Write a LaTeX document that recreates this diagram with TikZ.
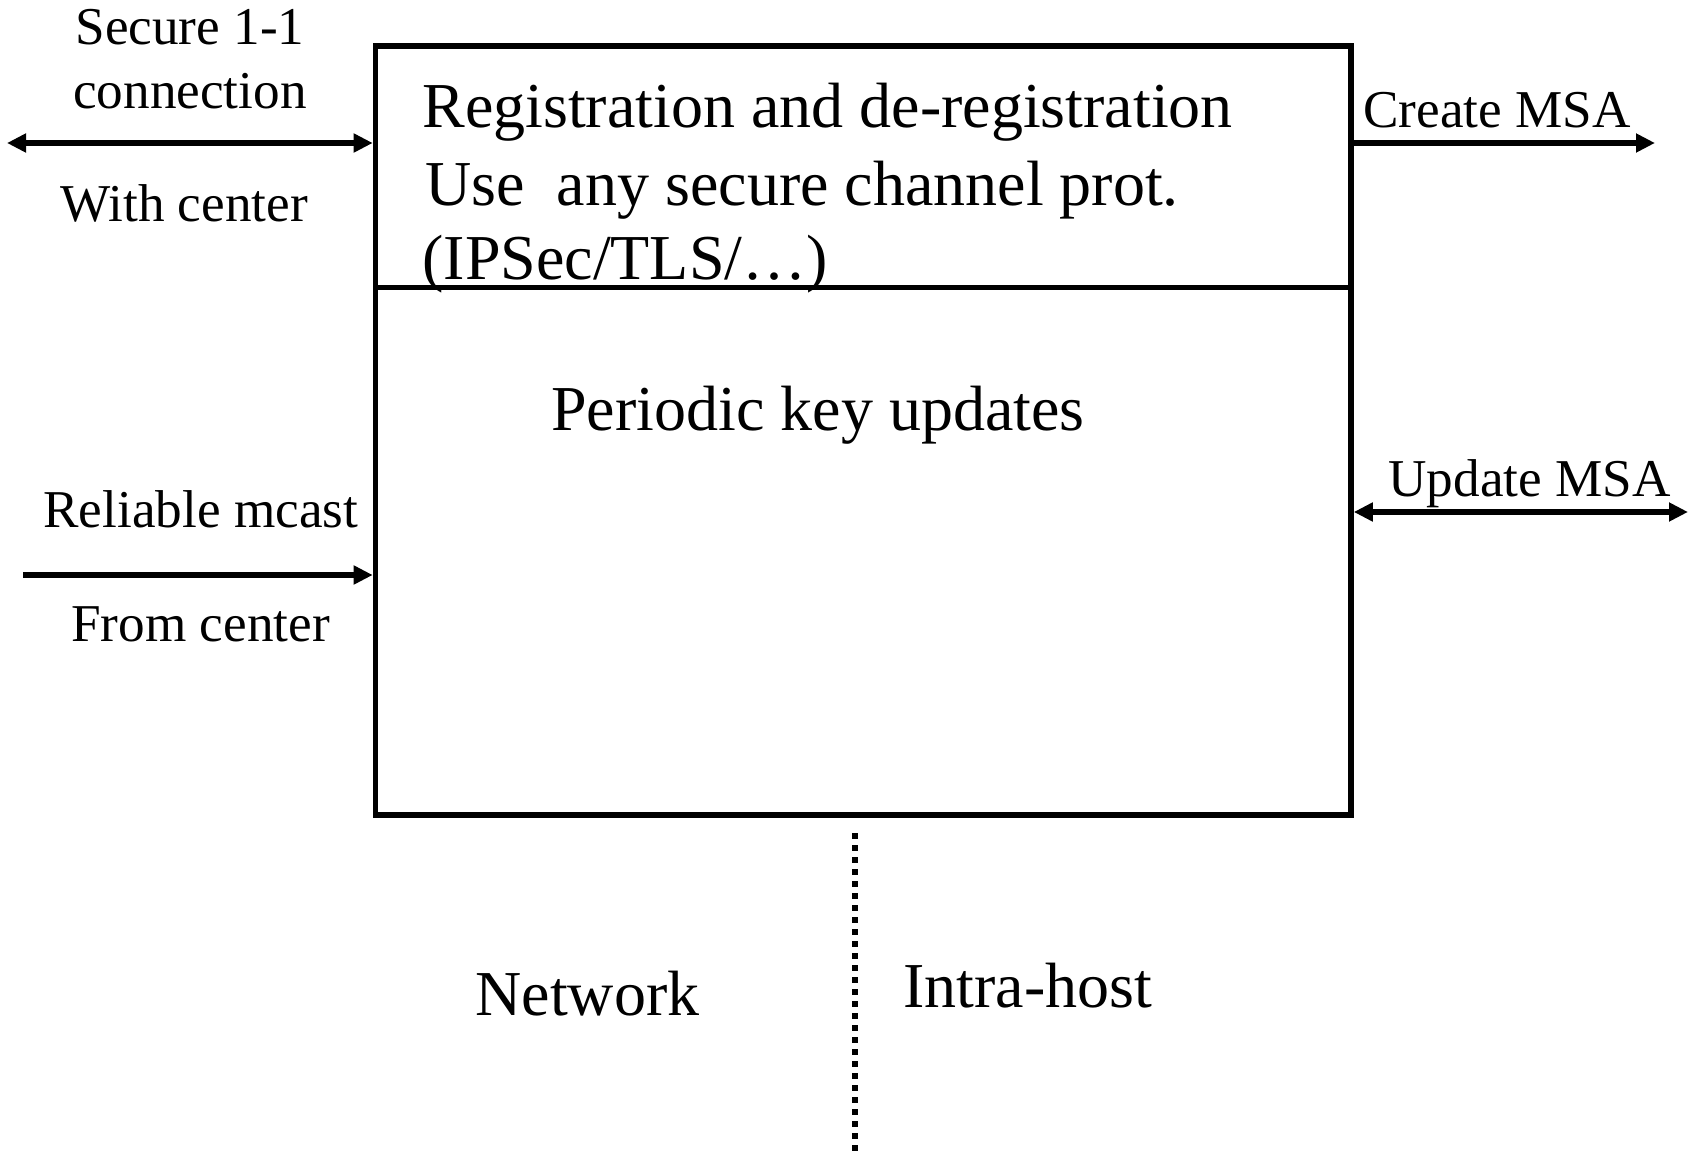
\documentclass[tikz,border=0pt]{standalone}
\usepackage{fontspec}
\setmainfont{Liberation Serif}
\usetikzlibrary{arrows.meta}
\begin{document}
\begin{tikzpicture}[x=0.5pt,y=-0.5pt,
  boxpart/.style={draw, line width=2.8pt, inner sep=0pt, outer sep=1.4pt},
  link/.style={line width=2.6pt, -{Triangle[length=9.5pt,width=9pt]}},
  duallink/.style={line width=2.6pt, {Triangle[length=9.5pt,width=9pt]}-{Triangle[length=9.5pt,width=9pt]}},
  bigtext/.style={anchor=base west, inner sep=0pt, font=\fontsize{32}{38}\selectfont},
  smalltext/.style={anchor=base west, inner sep=0pt, font=\fontsize{26.6}{31}\selectfont},
  divider/.style={line width=2.8pt, dash pattern=on 2.8pt off 3.2pt}]
\useasboundingbox (0,0) rectangle (1694,1151);

% the two stacked parts of the main block
\node[boxpart, minimum width=487.75pt, minimum height=120.75pt] (reg) at (863.25,166.75) {};
\node[boxpart, minimum width=487.75pt, minimum height=263.75pt] (upd) at (863.25,551.25) {};

% texts inside the block
\node[bigtext] (t1) at (422,127.5) {Registration and de-registration};
\node[bigtext] (t2) at (425,205) {Use\ \ any secure channel prot.};
\node[bigtext] (t3) at (422,279) {(IPSec/TLS/…)};
\node[bigtext] (t4) at (551,430) {Periodic key updates};

% left side connectors
\coordinate (secL) at (7,143);
\draw[duallink] (secL) -- (secL -| reg.west);
\node[smalltext, anchor=base] (s1) at (190,45) {Secure 1-1};
\node[smalltext, anchor=base] (s2) at (190,108) {connection};
\node[smalltext] (s3) at (60,221) {With center};

\coordinate (mcL) at (23,575);
\draw[link] (mcL) -- (mcL -| upd.west);
\node[smalltext] (m1) at (43,527) {Reliable mcast};
\node[smalltext] (m2) at (71,641) {From center};

% right side connectors
\coordinate (crR) at (1655,143);
\draw[link] (crR -| reg.east) -- (crR);
\node[smalltext] (c1) at (1363,127.5) {Create MSA};

\coordinate (upR) at (1688,512);
\draw[duallink] (upR -| upd.east) -- (upR);
\node[smalltext] (u1) at (1388,496) {Update MSA};

% boundary between network and host
\coordinate (dTop) at (855,833);
\coordinate (dBot) at (855,1151);
\draw[divider] (dTop) -- (dBot);
\node[bigtext] (n1) at (475,1015) {Network};
\node[bigtext] (n2) at (903,1007) {Intra-host};
\end{tikzpicture}
\end{document}
